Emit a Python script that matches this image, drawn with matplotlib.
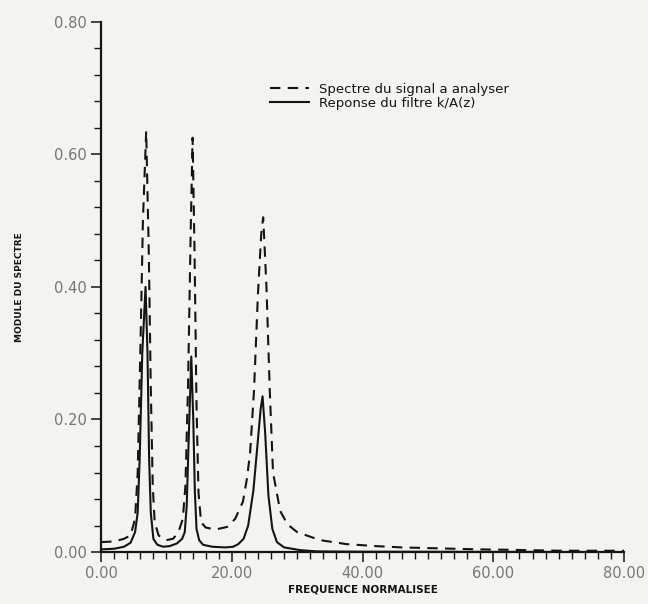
import matplotlib
matplotlib.use('Agg')
import matplotlib.pyplot as plt
from matplotlib.ticker import MultipleLocator, FormatStrFormatter

# Spectre du signal a analyser (dashed)
freq_signal = [0, 2, 3.5, 4.5, 5.2, 5.6, 6.0, 6.4, 6.9, 7.3, 7.6, 7.9, 8.2, 8.8,
               10.0, 11.0, 11.8, 12.5, 12.9, 13.3, 13.7, 14.0, 14.3, 14.6, 14.9,
               15.3, 16.0, 17.5, 19.3, 20.5, 21.7, 22.3, 22.8, 23.4, 24.0, 24.5,
               24.8, 25.3, 25.8, 26.3, 27.4, 28.5, 30.0, 33.5, 37.5, 42, 46, 50,
               54, 58, 62, 70, 80]
mod_signal = [0.015, 0.016, 0.020, 0.025, 0.050, 0.120, 0.300, 0.500, 0.635,
              0.450, 0.250, 0.100, 0.045, 0.025, 0.018, 0.020, 0.029, 0.050,
              0.100, 0.250, 0.480, 0.625, 0.450, 0.220, 0.090, 0.045, 0.037,
              0.034, 0.038, 0.050, 0.076, 0.110, 0.150, 0.245, 0.390, 0.480,
              0.505, 0.400, 0.245, 0.120, 0.062, 0.042, 0.030, 0.018, 0.012,
              0.009, 0.007, 0.006, 0.005, 0.004, 0.0035, 0.002, 0.002]

# Reponse du filtre k/A(z) (solid)
freq_filtre = [0, 2, 3.5, 4.5, 5.2, 5.6, 5.9, 6.3, 6.8, 7.1, 7.35, 7.6, 8.0, 8.6,
               9.5, 10.5, 11.6, 12.4, 12.8, 13.1, 13.4, 13.8, 14.1, 14.35, 14.6,
               15.0, 15.6, 17.0, 19.0, 20.2, 21.0, 21.8, 22.5, 23.3, 24.0, 24.4,
               24.7, 25.1, 25.6, 26.2, 26.9, 28.0, 30.4, 33, 40, 80]
mod_filtre = [0.004, 0.005, 0.008, 0.014, 0.030, 0.060, 0.140, 0.300, 0.400,
              0.300, 0.140, 0.060, 0.020, 0.011, 0.008, 0.009, 0.013, 0.020,
              0.030, 0.070, 0.170, 0.295, 0.200, 0.090, 0.035, 0.018, 0.011,
              0.008, 0.007, 0.008, 0.012, 0.020, 0.040, 0.093, 0.170, 0.215,
              0.235, 0.180, 0.085, 0.035, 0.015, 0.007, 0.003, 0.001, 0.0005, 0.0]

labels = ['Spectre du signal a analyser', 'Reponse du filtre k/A(z)']

bg = '#f3f3f1'
ink = '#141414'

fig = plt.figure(figsize=(6.48, 6.04), dpi=100, facecolor=bg)
ax = fig.add_axes([0.156, 0.086, 0.807, 0.878], facecolor=bg)

ax.plot(freq_signal, mod_signal, color=ink, lw=1.5, dashes=(5, 3.5),
        label=labels[0])
ax.plot(freq_filtre, mod_filtre, color=ink, lw=1.5, label=labels[1])

ax.set_xlim(0, 80)
ax.set_ylim(0, 0.8)

for s in ['top', 'right']:
    ax.spines[s].set_visible(False)
for s in ['left', 'bottom']:
    ax.spines[s].set_linewidth(1.6)
    ax.spines[s].set_color(ink)

ax.xaxis.set_major_locator(MultipleLocator(20))
ax.xaxis.set_minor_locator(MultipleLocator(2))
ax.yaxis.set_major_locator(MultipleLocator(0.2))
ax.yaxis.set_minor_locator(MultipleLocator(0.04))
ax.xaxis.set_major_formatter(FormatStrFormatter('%.2f'))
ax.yaxis.set_major_formatter(FormatStrFormatter('%.2f'))

ax.tick_params(which='major', direction='out', length=7, width=1.1,
               color=ink, labelsize=10.5, labelcolor='#767676', pad=3)
ax.tick_params(which='minor', direction='out', length=5, width=1.0, color=ink)

ax.set_ylabel('MODULE DU SPECTRE', fontsize=6.5, fontweight='bold', color=ink)
ax.yaxis.set_label_coords(-0.148, 0.5)
ax.set_xlabel('FREQUENCE NORMALISEE', fontsize=7.5, fontweight='bold', color=ink)
ax.xaxis.set_label_coords(0.5, -0.062)

leg = ax.legend(loc='upper left', bbox_to_anchor=(0.31, 0.897), frameon=False,
                fontsize=9.5, handlelength=3.0, handletextpad=0.7,
                labelspacing=0.05, borderpad=0)
for t in leg.get_texts():
    t.set_color(ink)

fig.savefig('out.png', dpi=100, facecolor=bg)
